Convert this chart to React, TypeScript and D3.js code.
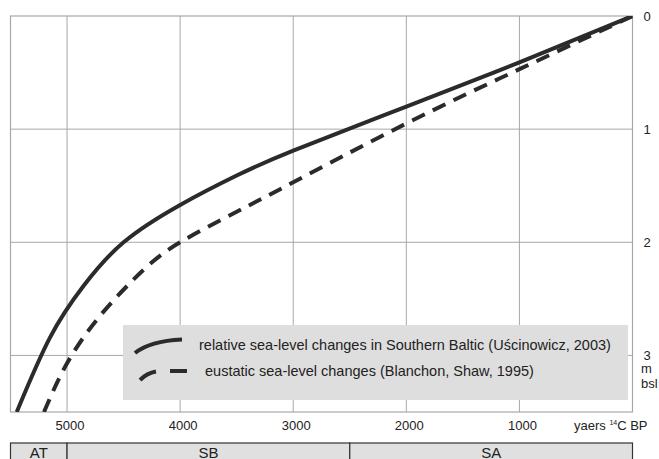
import React from 'react';
import * as d3 from 'd3';

// years 14C BP and depth (m bsl)
const relAges = [0, 1000, 2000, 3000, 3500, 4000, 4500, 4850, 5150, 5445];
const relDepth = [0, 0.41, 0.8, 1.19, 1.41, 1.67, 2.0, 2.38, 2.84, 3.5];

const eusAges = [0, 1000, 2000, 3000, 3500, 4000, 4330, 4700, 5000, 5204];
const eusDepth = [0, 0.47, 0.95, 1.47, 1.73, 2.0, 2.25, 2.64, 3.07, 3.5];

const xTicks = [5000, 4000, 3000, 2000, 1000];
const yTicks = [0, 1, 2, 3];
const periods = [
  { name: 'AT', from: 5500, to: 5000 },
  { name: 'SB', from: 5000, to: 2500 },
  { name: 'SA', from: 2500, to: 0 },
];
const legendItems = [
  'relative sea-level changes in Southern Baltic (Uścinowicz, 2003)',
  'eustatic sea-level changes (Blanchon, Shaw, 1995)',
];

const App = () => {
  const width = 659;
  const height = 459;
  const left = 10.5;
  const right = 632.5;
  const top = 16;
  const bottom = 412;

  const x = d3.scaleLinear().domain([5500, 0]).range([left, right]);
  const y = d3.scaleLinear().domain([0, 3.5]).range([top, bottom]);

  const line = d3
    .line<[number, number]>()
    .x((d) => x(d[0]))
    .y((d) => y(d[1]))
    .curve(d3.curveNatural);

  const rel = relAges.map((a, i) => [a, relDepth[i]] as [number, number]);
  const eus = eusAges.map((a, i) => [a, eusDepth[i]] as [number, number]);

  const font = 'Liberation Sans, Arial, sans-serif';
  const grid = '#a8a8a8';
  const ink = '#2b2b2b';

  return (
    <svg
      width={width}
      height={height}
      style={{ position: 'absolute', left: 0, top: 0, background: '#fff' }}
      fontFamily={font}
    >
      <defs>
        <clipPath id="plot">
          <rect x={left} y={top} width={right - left} height={bottom - top} />
        </clipPath>
      </defs>

      {/* grid */}
      {xTicks.map((t) => (
        <line key={'gx' + t} x1={x(t)} x2={x(t)} y1={top} y2={bottom} stroke={grid} strokeWidth={1} />
      ))}
      {yTicks.slice(1).map((t) => (
        <line key={'gy' + t} x1={left} x2={right} y1={y(t)} y2={y(t)} stroke={grid} strokeWidth={1} />
      ))}
      <rect x={left} y={top} width={right - left} height={bottom - top} fill="none" stroke={grid} strokeWidth={1.2} />

      {/* curves */}
      <g clipPath="url(#plot)">
        <path d={line(eus) || ''} fill="none" stroke={ink} strokeWidth={4} strokeDasharray="14 9" />
        <path d={line(rel) || ''} fill="none" stroke={ink} strokeWidth={4} />
      </g>

      {/* legend */}
      <rect x={123} y={325} width={505} height={75} fill="#dedede" />
      <path d="M135,353 Q150,341 182,339.5" fill="none" stroke={ink} strokeWidth={4} />
      <path d="M140,380 Q147,373 156,371.5" fill="none" stroke={ink} strokeWidth={4} />
      <path d="M170,371 L187,371" fill="none" stroke={ink} strokeWidth={4} />
      <text x={199} y={350} fontSize={14.5} fill="#222">{legendItems[0]}</text>
      <text x={205} y={376} fontSize={14.5} fill="#222">{legendItems[1]}</text>

      {/* y labels */}
      {yTicks.map((t) => (
        <text key={'yl' + t} x={647} y={y(t) + 5} fontSize={13} textAnchor="middle" fill="#222">
          {t}
        </text>
      ))}
      <text x={641} y={373} fontSize={13} fill="#222">m</text>
      <text x={641} y={388} fontSize={13} fill="#222">bsl</text>

      {/* x labels */}
      {xTicks.map((t) => (
        <text key={'xl' + t} x={x(t) + 3} y={430} fontSize={13} textAnchor="middle" fill="#222">
          {t}
        </text>
      ))}
      <text x={574} y={430} fontSize={13} fill="#222">
        yaers <tspan fontSize={7} dy={-5}>14</tspan>
        <tspan dy={5}>C BP</tspan>
      </text>

      {/* periods */}
      {periods.map((p) => (
        <g key={p.name}>
          <rect
            x={x(p.from)}
            y={443}
            width={x(p.to) - x(p.from)}
            height={30}
            fill="#e0e0e0"
            stroke="#333"
            strokeWidth={1.2}
          />
          <text x={(x(p.from) + x(p.to)) / 2} y={458} fontSize={15} textAnchor="middle" fill="#222">
            {p.name}
          </text>
        </g>
      ))}
    </svg>
  );
};

export default App;
